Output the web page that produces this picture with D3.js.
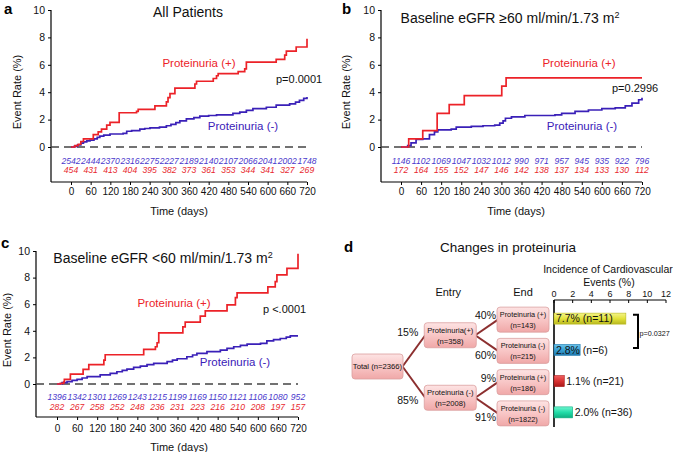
<!DOCTYPE html>
<html><head><meta charset="utf-8">
<script src="https://cdn.jsdelivr.net/npm/d3@7"></script>
<style>
body{margin:0;background:#fff}
svg{display:block}
text{font-family:"Liberation Sans",Arial,Helvetica,sans-serif}
</style>
</head><body>
<svg id="chart" width="673" height="452"></svg>
<script>
// ---------- DATA ----------
const dayTicks = [0,60,120,180,240,300,360,420,480,540,600,660,720];
const rateTicks = [0,2,4,6,8,10];

// Panel a: All patients
const aRed = [[0,0],[12,0.1],[22,0.2],[30,0.4],[38,0.6],[68,0.9],[83,1.1],[93,1.3],[109,1.6],[119,1.8],[147,2.5],[200,2.6],[205,2.75],[256,3.0],[291,3.3],[296,3.6],[302,3.9],[317,4.3],[378,4.6],[383,4.8],[434,5.0],[444,5.2],[449,5.35],[510,5.5],[530,5.7],[535,6.2],[626,6.4],[652,6.7],[657,7.0],[687,7.3],[720,7.9]];
const aBlue = [[0,0],[10,0.05],[20,0.15],[30,0.28],[38,0.37],[48,0.45],[58,0.5],[70,0.6],[80,0.7],[88,0.8],[100,0.87],[119,0.95],[159,1.0],[170,1.15],[185,1.2],[210,1.3],[225,1.35],[241,1.4],[270,1.45],[291,1.55],[305,1.65],[320,1.78],[332,1.9],[352,2.05],[375,2.15],[393,2.25],[420,2.3],[444,2.35],[494,2.45],[515,2.55],[535,2.68],[555,2.8],[596,2.9],[626,3.05],[667,3.15],[685,3.28],[697,3.4],[710,3.55],[720,3.65]];
const aRiskNeg = [2542,2444,2370,2316,2275,2227,2189,2140,2107,2066,2041,2002,1748];
const aRiskPos = [454,431,413,404,395,382,373,361,353,344,341,327,269];

// Panel b: eGFR >= 60
const bRed = [[0,0],[23,0.6],[65,1.2],[108,2.45],[144,3.1],[189,3.75],[301,4.45],[314,5.05],[720,5.05]];
const bBlue = [[0,0],[20,0.1],[30,0.3],[45,0.55],[65,0.6],[85,0.9],[100,1.1],[110,1.25],[150,1.3],[165,1.45],[210,1.5],[245,1.55],[280,1.6],[295,1.75],[305,1.9],[312,2.1],[330,2.2],[370,2.3],[460,2.35],[480,2.45],[520,2.6],[560,2.7],[600,2.8],[640,2.85],[670,3.0],[690,3.2],[710,3.45],[720,3.6]];
const bRiskNeg = [1146,1102,1069,1047,1032,1012,990,971,957,945,935,922,796];
const bRiskPos = [172,164,155,152,147,146,142,138,137,134,133,130,112];

// Panel c: eGFR < 60
const cRed = [[0,0],[10,0.05],[20,0.15],[22,0.35],[40,0.75],[78,1.1],[95,1.45],[140,1.8],[144,2.2],[259,2.6],[294,2.8],[299,3.1],[304,3.85],[376,4.3],[383,4.65],[428,5.1],[443,5.5],[508,5.95],[533,6.5],[538,6.85],[630,7.3],[652,7.7],[657,8.2],[687,8.7],[720,9.8]];
const cBlue = [[0,0],[15,0.1],[30,0.18],[45,0.27],[60,0.35],[75,0.45],[90,0.55],[129,0.68],[159,0.8],[179,0.92],[195,1.02],[209,1.12],[229,1.25],[249,1.35],[269,1.45],[289,1.55],[329,1.68],[345,1.8],[359,1.9],[388,2.05],[405,2.18],[418,2.3],[448,2.43],[488,2.55],[508,2.68],[528,2.8],[548,2.9],[568,3.0],[608,3.05],[627,3.25],[647,3.33],[667,3.42],[685,3.52],[697,3.62],[720,3.62]];
const cRiskNeg = [1396,1342,1301,1269,1243,1215,1199,1169,1150,1121,1106,1080,952];
const cRiskPos = [282,267,258,252,248,236,231,223,216,210,208,197,157];

// Panel d
const barTicks = [0,2,4,6,8,10,12];
const barValues = [7.7, 2.8, 1.1, 2.0];
const barLabels = ["7.7% (n=11)", "2.8% (n=6)", "1.1% (n=21)", "2.0% (n=36)"];
const totalNode = ["Total (n=2366)"];
const entryNodes = [["Proteinuria(+)","(n=358)"],["Proteinuria (-)","(n=2008)"]];
const endNodes = [["Proteinuria (+)","(n=143)"],["Proteinuria (-)","(n=215)"],["Proteinuria (+)","(n=186)"],["Proteinuria (-)","(n=1822)"]];
const entryPct = ["15%","85%"];
const endPct = ["40%","60%","9%","91%"];
const pBars = "p=0.0327";

// ---------- STYLE ----------
const RED = "#ec2228", BLUE = "#3a20b8", BLUE_T = "#4a38cc", RED_T = "#e8282e";
const svg = d3.select("#chart");

function drawKM(cfg, red, blue, riskNeg, riskPos) {
  const g = svg.append("g");
  const x = d3.scaleLinear().domain([0,720]).range([cfg.x0, cfg.x1]);
  const y = d3.scaleLinear().domain([0,10]).range([cfg.y0, cfg.yTop]);

  g.append("line").attr("x1", cfg.yAxisX).attr("x2", cfg.yAxisX)
    .attr("y1", cfg.yTop).attr("y2", cfg.yBottom).attr("stroke","#000").attr("stroke-width",1.2);
  g.append("line").attr("x1", cfg.yAxisX).attr("x2", x(720))
    .attr("y1", cfg.yBottom).attr("y2", cfg.yBottom).attr("stroke","#000").attr("stroke-width",1.2);

  const ya = g.append("g").attr("transform",`translate(${cfg.yAxisX},0)`)
    .call(d3.axisLeft(y).tickValues(rateTicks).tickSize(3).tickPadding(3));
  ya.select(".domain").remove();
  ya.selectAll("text").attr("font-size","10.5px").attr("fill","#111");

  const xa = g.append("g").attr("transform",`translate(0,${cfg.yBottom})`)
    .call(d3.axisBottom(x).tickValues(dayTicks).tickSize(3).tickPadding(cfg.tickPad));
  xa.select(".domain").remove();
  xa.selectAll("text").attr("font-size","10px").attr("fill","#111");

  g.append("line").attr("x1", cfg.yAxisX).attr("x2", x(720))
    .attr("y1", y(0)).attr("y2", y(0))
    .attr("stroke","#444").attr("stroke-width",1.6).attr("stroke-dasharray","8,5");

  const line = d3.line().x(d=>x(d[0])).y(d=>y(d[1])).curve(d3.curveStepAfter);
  g.append("path").datum(blue).attr("d", line).attr("fill","none").attr("stroke",BLUE).attr("stroke-width",1.7);
  g.append("path").datum(red).attr("d", line).attr("fill","none").attr("stroke",RED).attr("stroke-width",1.7);

  g.selectAll(".rn").data(riskNeg).join("text")
    .attr("x",(d,i)=>x(dayTicks[i])).attr("y",cfg.riskNegY).attr("dy","0.35em")
    .attr("text-anchor","middle").attr("font-size","8.6px").attr("font-style","italic")
    .attr("fill",BLUE_T).text(d=>d);
  g.selectAll(".rp").data(riskPos).join("text")
    .attr("x",(d,i)=>x(dayTicks[i])).attr("y",cfg.riskPosY).attr("dy","0.35em")
    .attr("text-anchor","middle").attr("font-size","8.6px").attr("font-style","italic")
    .attr("fill",RED_T).text(d=>d);

  g.append("text").attr("x",cfg.xTitle[0]).attr("y",cfg.xTitle[1]).attr("dy","0.35em")
    .attr("text-anchor","middle").attr("font-size","11px").attr("fill","#111").text("Time (days)");
  g.append("text").attr("transform",`translate(${cfg.yTitle[0]},${cfg.yTitle[1]}) rotate(-90)`)
    .attr("dy","0.35em").attr("text-anchor","middle").attr("font-size","11px").attr("fill","#111")
    .text("Event Rate (%)");

  g.append("text").attr("x",cfg.letter[1]).attr("y",cfg.letter[2])
    .attr("font-size","15px").attr("font-weight","bold").attr("fill","#000").text(cfg.letter[0]);

  const t = g.append("text").attr("x",cfg.title[1]).attr("y",cfg.title[2]).attr("dy","0.35em")
    .attr("text-anchor","middle").attr("font-size","14px").attr("fill","#111");
  t.append("tspan").text(cfg.title[0]);
  if (cfg.sup) t.append("tspan").attr("dy","-5").attr("font-size","9px").text(cfg.sup);

  g.append("text").attr("x",cfg.redLab[0]).attr("y",cfg.redLab[1]).attr("dy","0.35em")
    .attr("text-anchor","middle").attr("font-size","11.5px").attr("fill",RED).text("Proteinuria (+)");
  g.append("text").attr("x",cfg.blueLab[0]).attr("y",cfg.blueLab[1]).attr("dy","0.35em")
    .attr("text-anchor","middle").attr("font-size","11.5px").attr("fill",BLUE).text("Proteinuria (-)");
  g.append("text").attr("x",cfg.pLab[1]).attr("y",cfg.pLab[2]).attr("dy","0.35em")
    .attr("font-size","11px").attr("fill","#111").text(cfg.pLab[0]);
}

drawKM({yAxisX:51, x0:71, x1:307, yTop:10, y0:147, yBottom:182, tickPad:3,
  riskNegY:161, riskPosY:170, xTitle:[179,211], yTitle:[17,92],
  letter:["a",4,14], title:["All Patients",188,12],
  redLab:[199,63], blueLab:[243,126], pLab:["p=0.0001",276,79]}, aRed, aBlue, aRiskNeg, aRiskPos);

drawKM({yAxisX:381, x0:401, x1:642, yTop:10, y0:147, yBottom:182, tickPad:3,
  riskNegY:161, riskPosY:170, xTitle:[516,211], yTitle:[346,92],
  letter:["b",342,14], title:["Baseline eGFR \u226560 ml/min/1.73 m",510,18], sup:"2",
  redLab:[579,63], blueLab:[582,126], pLab:["p=0.2996",612,88]}, bRed, bBlue, bRiskNeg, bRiskPos);

drawKM({yAxisX:36, x0:57, x1:298, yTop:251, y0:384, yBottom:417, tickPad:5,
  riskNegY:397, riskPosY:407, xTitle:[179,447], yTitle:[7,330],
  letter:["c",1,248], title:["Baseline eGFR <60 ml/min/1.73 m",163,258], sup:"2",
  redLab:[174,303], blueLab:[235,362], pLab:["p <.0001",263,309]}, cRed, cBlue, cRiskNeg, cRiskPos);

// ---------- PANEL D ----------
const gd = svg.append("g");
const defs = svg.append("defs");
function grad(id, c1, c2, c3) {
  const lg = defs.append("linearGradient").attr("id",id).attr("x1",0).attr("y1",0).attr("x2",0).attr("y2",1);
  lg.append("stop").attr("offset","0%").attr("stop-color",c1);
  lg.append("stop").attr("offset","50%").attr("stop-color",c2);
  lg.append("stop").attr("offset","100%").attr("stop-color",c3);
}
grad("gBox","#fde3e3","#f8c6c6","#f0a8a8");
const barGrads = [["gY","#f4f48a","#e2e23a","#b8b820"],["gB","#6cc4ea","#3aa2d6","#1f78ad"],["gR","#f06060","#d83232","#a81818"],["gT","#6ff5cf","#22dca8","#0fae80"]];
barGrads.forEach(b=>grad(b[0],b[1],b[2],b[3]));

gd.append("text").attr("x",344).attr("y",252).attr("font-size","15px").attr("font-weight","bold").text("d");
gd.append("text").attr("x",508).attr("y",247).attr("dy","0.35em").attr("text-anchor","middle")
  .attr("font-size","13.5px").attr("fill","#111").text("Changes in proteinuria");
gd.append("text").attr("x",608).attr("y",269).attr("dy","0.35em").attr("text-anchor","middle")
  .attr("font-size","10.5px").attr("fill","#111").text("Incidence of Cardiovascular");
gd.append("text").attr("x",609).attr("y",282).attr("dy","0.35em").attr("text-anchor","middle")
  .attr("font-size","10.5px").attr("fill","#111").text("Events (%)");

const bx = d3.scaleLinear().domain([0,12]).range([554,666]);
const row = d3.scaleBand().domain(d3.range(4)).range([304,429]);
const rowC = i => row(i) + row.bandwidth()/2;
const col = d3.scalePoint().domain(["Total","Entry","End"]).range([377.5,523]);

gd.append("line").attr("x1",bx(0)).attr("x2",bx(12)).attr("y1",300).attr("y2",300).attr("stroke","#000").attr("stroke-width",1);
gd.append("line").attr("x1",bx(0)).attr("x2",bx(0)).attr("y1",300).attr("y2",427).attr("stroke","#000").attr("stroke-width",1.6);
gd.selectAll(".bt").data(barTicks).join("line").attr("x1",d=>bx(d)).attr("x2",d=>bx(d))
  .attr("y1",300).attr("y2",303).attr("stroke","#000");
gd.selectAll(".btl").data(barTicks).join("text").attr("x",d=>bx(d)).attr("y",294).attr("dy","0.35em")
  .attr("text-anchor","middle").attr("font-size","9px").attr("fill","#111").text(d=>d);

const barH = 11;
gd.selectAll(".bar").data(barValues).join("rect")
  .attr("x",bx(0)).attr("y",(d,i)=>rowC(i)-barH/2-1).attr("width",d=>bx(d)-bx(0)).attr("height",barH)
  .attr("fill",(d,i)=>`url(#${barGrads[i][0]})`).attr("stroke",(d,i)=>barGrads[i][3]).attr("stroke-width",0.6);
gd.selectAll(".bl").data(barValues).join("text")
  .attr("x",(d,i)=> i<2 ? bx(0)+2 : bx(d)+2).attr("y",(d,i)=>rowC(i)-1).attr("dy","0.35em")
  .attr("font-size","10.5px").attr("fill","#111").text((d,i)=>barLabels[i]);

gd.append("path").attr("d",`M${633},${rowC(0)-5}H${638}V${rowC(1)-3}H${633}`)
  .attr("fill","none").attr("stroke","#000").attr("stroke-width",2);
gd.append("text").attr("x",639.5).attr("y",(rowC(0)+rowC(1))/2-2).attr("dy","0.35em")
  .attr("font-size","7.2px").attr("fill","#111").text(pBars);

const boxW = 52, boxH = 25;
const entryY = [ (rowC(0)+rowC(1))/2, (rowC(2)+rowC(3))/2 ];
const totalY = (entryY[0]+entryY[1])/2;
const LINE = "#8c2f2f";

function edge(x1,y1,x2,y2){
  gd.append("line").attr("x1",x1).attr("y1",y1).attr("x2",x2).attr("y2",y2)
    .attr("stroke",LINE).attr("stroke-width",2);
}
entryY.forEach(ey=>edge(col("Total")+boxW/2-1, totalY, col("Entry")-boxW/2+1, ey));
endNodes.forEach((n,i)=>edge(col("Entry")+boxW/2-1, entryY[Math.floor(i/2)], col("End")-boxW/2+1, rowC(i)));

function box(cx, cy, lines, fs, w){
  gd.append("rect").attr("x",cx-w/2).attr("y",cy-boxH/2).attr("width",w).attr("height",boxH)
    .attr("rx",3).attr("fill","url(#gBox)").attr("stroke","#dba0a0").attr("stroke-width",0.8);
  const t = gd.append("text").attr("text-anchor","middle").attr("font-size",fs).attr("fill","#111");
  if (lines.length===1) {
    t.append("tspan").attr("x",cx).attr("y",cy).attr("dy","0.35em").text(lines[0]);
  } else {
    t.append("tspan").attr("x",cx).attr("y",cy-5).attr("dy","0.35em").text(lines[0]);
    t.append("tspan").attr("x",cx).attr("y",cy+6).attr("dy","0.35em").text(lines[1]);
  }
}
box(col("Total"), totalY, totalNode, "7.7px", 51);
entryNodes.forEach((n,i)=>box(col("Entry"), entryY[i], n, "7.6px", boxW));
endNodes.forEach((n,i)=>box(col("End"), rowC(i), n, "7.3px", boxW));

gd.append("text").attr("x",col("Entry")-2).attr("y",292).attr("dy","0.35em").attr("text-anchor","middle")
  .attr("font-size","11px").attr("fill","#111").text("Entry");
gd.append("text").attr("x",col("End")).attr("y",292).attr("dy","0.35em").attr("text-anchor","middle")
  .attr("font-size","11px").attr("fill","#111").text("End");

entryPct.forEach((p,i)=>gd.append("text").attr("x",col("Entry")-boxW/2-6).attr("y",entryY[i]+(i===0?-3:3)).attr("dy","0.35em")
  .attr("text-anchor","end").attr("font-size","10.5px").attr("fill","#111").text(p));
endPct.forEach((p,i)=>gd.append("text").attr("x",col("End")-boxW/2-1).attr("y",rowC(i)+(i%2===0?-4:4)).attr("dy","0.35em")
  .attr("text-anchor","end").attr("font-size","10.5px").attr("fill","#111").text(p));
</script>
</body></html>
